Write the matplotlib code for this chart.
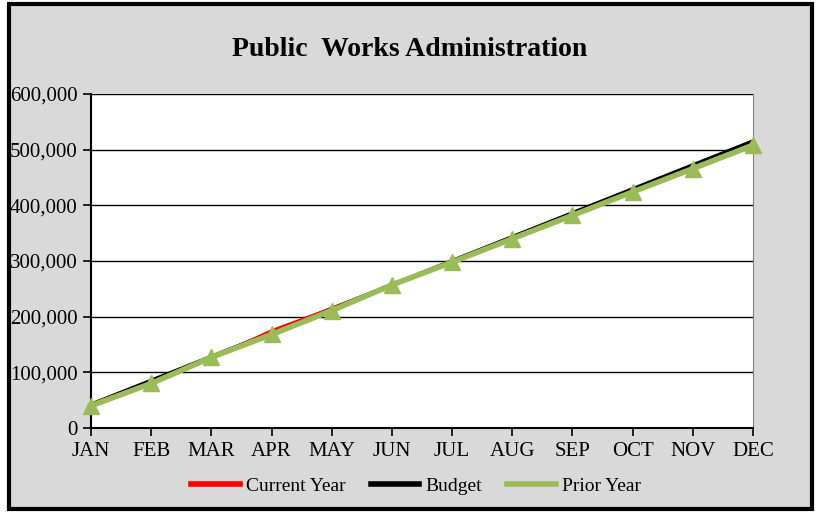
import matplotlib
matplotlib.use("Agg")
import matplotlib.pyplot as plt
from matplotlib.patches import Rectangle

months = ["JAN", "FEB", "MAR", "APR", "MAY", "JUN", "JUL", "AUG", "SEP", "OCT", "NOV", "DEC"]
current_year = [42000, 82000, 125000, 175000, 215000, 255000]
budget = [43000, 86000, 129000, 172000, 215000, 258000, 301000, 344000, 387000, 430000, 473000, 516000]
prior_year = [40000, 80000, 127000, 168000, 211000, 257000, 298000, 340000, 382000, 424000, 466000, 508000]
y_ticks = [0, 100000, 200000, 300000, 400000, 500000, 600000]

plt.rcParams['font.family'] = ['Liberation Serif', 'DejaVu Serif']

W, H = 820, 514
fig = plt.figure(figsize=(W / 100, H / 100), dpi=100)
fig.patch.set_facecolor('white')
bg = Rectangle((9 / W, 1 - 509 / H), (812 - 9) / W, (509 - 4) / H,
               transform=fig.transFigure, facecolor='#d9d9d9',
               edgecolor='black', linewidth=3, zorder=-5)
fig.add_artist(bg)

ax = fig.add_axes([91 / W, 1 - 428 / H, (753 - 91) / W, (428 - 94) / H])
ax.set_zorder(2)
ax.set_facecolor('white')
x = list(range(len(months)))

ax.plot(x, budget, color='black', lw=2.2, zorder=3, label='Budget')
ax.plot(x[:len(current_year)], current_year, color='#ff0000', lw=2.0, marker='D',
        markersize=3, zorder=4, label='Current Year')
ax.plot(x, prior_year, color='#9bbb59', lw=4, marker='^', markersize=12, zorder=5,
        label='Prior Year')

ax.set_xlim(0, 11)
ax.set_ylim(0, 600000)
ax.set_yticks(y_ticks)
ax.set_yticklabels([f"{v:,}" for v in y_ticks])
ax.set_xticks(x)
ax.set_xticklabels(months)
ax.yaxis.grid(True, color='black', lw=1)
ax.set_axisbelow(True)
ax.spines['top'].set_visible(False)
ax.spines['right'].set_color('#808080')
ax.spines['left'].set_linewidth(1.5)
ax.spines['bottom'].set_linewidth(1.5)
ax.tick_params(axis='both', direction='out', length=6, width=1.2, labelsize=15,
               colors='black')
ax.tick_params(axis='x', pad=4)
for line in ax.lines:
    line.set_clip_on(False)

fig.text(0.5, 1 - 49 / H, "Public  Works Administration", ha='center', va='center',
         fontsize=20, fontweight='bold')

handles, labels = ax.get_legend_handles_labels()
order = [1, 0, 2]
leg = fig.legend([handles[i] for i in order], [labels[i] for i in order],
                 loc='center', bbox_to_anchor=(416 / W, 1 - 486 / H), ncol=3,
                 frameon=False, fontsize=14, handlelength=2.5, columnspacing=1.3,
                 handletextpad=0.3)
for h in leg.get_lines():
    h.set_marker('')
    h.set_linewidth(4)

fig.savefig("out.png", dpi=100, facecolor=fig.get_facecolor())
